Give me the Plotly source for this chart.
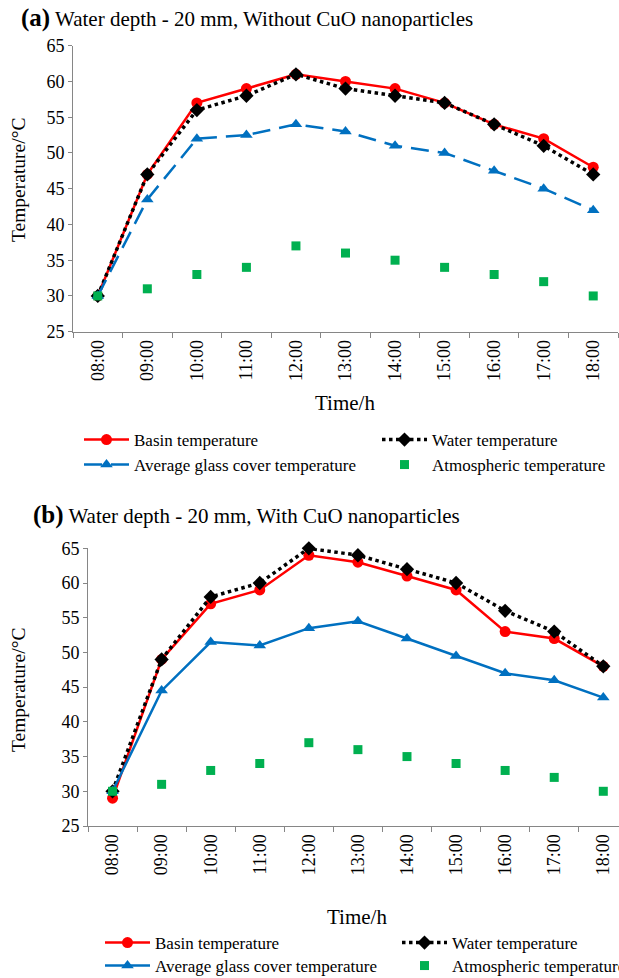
import plotly.graph_objects as go

# ---- data -------------------------------------------------------------
hours = ["08:00", "09:00", "10:00", "11:00", "12:00", "13:00",
         "14:00", "15:00", "16:00", "17:00", "18:00"]

# (a) without CuO nanoparticles
basin_a = [30, 47, 57, 59, 61, 60, 59, 57, 54, 52, 48]
water_a = [30, 47, 56, 58, 61, 59, 58, 57, 54, 51, 47]
glass_a = [30, 43.5, 52, 52.5, 54, 53, 51, 50, 47.5, 45, 42]
atmos_a = [30, 31, 33, 34, 37, 36, 35, 34, 33, 32, 30]

# (b) with CuO nanoparticles
basin_b = [29, 49, 57, 59, 64, 63, 61, 59, 53, 52, 48]
water_b = [30, 49, 58, 60, 65, 64, 62, 60, 56, 53, 48]
glass_b = [30, 44.5, 51.5, 51, 53.5, 54.5, 52, 49.5, 47, 46, 43.5]
atmos_b = [30, 31, 33, 34, 37, 36, 35, 34, 33, 32, 30]

# ---- helpers ------------------------------------------------------------
W, H = 619, 978
FONT = "Liberation Serif, Times New Roman, serif"
RED, BLACK, BLUE, GREEN, GREY = "#FF0000", "#000000", "#0070C0", "#00B050", "#868686"


def fx(px):
    return px / W


def fy(px):
    return 1 - px / H


fig = go.Figure()


def add_panel(xa, ya, basin, water, glass, atmos, glass_dash, legs):
    fig.add_trace(go.Scatter(
        x=hours, y=basin, name="Basin temperature", mode="lines+markers",
        line=dict(color=RED, width=2.5),
        marker=dict(symbol="circle", size=11, color=RED),
        xaxis=xa, yaxis=ya, legend=legs[0], cliponaxis=False))
    fig.add_trace(go.Scatter(
        x=hours, y=water, name="Water temperature", mode="lines+markers",
        line=dict(color=BLACK, width=3.5, dash="dot"),
        marker=dict(symbol="diamond", size=11, color=BLACK),
        xaxis=xa, yaxis=ya, legend=legs[1], cliponaxis=False))
    fig.add_trace(go.Scatter(
        x=hours, y=glass, name="Average glass cover temperature", mode="lines+markers",
        line=dict(color=BLUE, width=2.5, dash=glass_dash),
        marker=dict(symbol="triangle-up", size=11, color=BLUE),
        xaxis=xa, yaxis=ya, legend=legs[2], cliponaxis=False))
    fig.add_trace(go.Scatter(
        x=hours, y=atmos, name="Atmospheric temperature", mode="markers",
        marker=dict(symbol="square", size=9, color=GREEN),
        xaxis=xa, yaxis=ya, legend=legs[3], cliponaxis=False))


add_panel("x", "y", basin_a, water_a, glass_a, atmos_a, "18px,9px",
          ["legend", "legend2", "legend3", "legend4"])
add_panel("x2", "y2", basin_b, water_b, glass_b, atmos_b, "solid",
          ["legend5", "legend6", "legend7", "legend8"])

xaxis_common = dict(
    type="category", tickson="boundaries", ticks="outside", ticklen=5,
    tickcolor=GREY, showline=True, linecolor=GREY, linewidth=1,
    tickangle=-90, tickfont=dict(family=FONT, size=18, color="black"),
    showgrid=False, zeroline=False, fixedrange=True)
yaxis_common = dict(
    range=[25, 65], dtick=5, ticks="outside", ticklen=4, tickcolor=GREY,
    showline=True, linecolor=GREY, linewidth=1,
    tickfont=dict(family=FONT, size=18, color="black"),
    showgrid=False, zeroline=False, fixedrange=True)

legend_common = dict(
    orientation="h", xanchor="left", yanchor="middle", itemwidth=45,
    font=dict(family=FONT, size=17, color="black"),
    bgcolor="rgba(0,0,0,0)")

# legend entries laid out as two columns by two rows under each panel
leg_a_cols, leg_a_rows = (79, 377), (440, 465)
leg_b_cols, leg_b_rows = (100, 397), (943, 966)


def leg(col_x, row_y):
    return dict(x=fx(col_x), y=fy(row_y), **legend_common)


fig.update_layout(
    width=W, height=H,
    margin=dict(l=0, r=0, t=0, b=0, autoexpand=False),
    paper_bgcolor="white", plot_bgcolor="white",
    font=dict(family=FONT, color="black"),
    xaxis=dict(domain=[fx(73), fx(618)], anchor="y", range=[-0.5, 10.5], **xaxis_common),
    yaxis=dict(domain=[fy(331.7), fy(45.7)], anchor="x", **yaxis_common),
    xaxis2=dict(domain=[fx(88), 1], anchor="y2", range=[-0.5, 10.32], **xaxis_common),
    yaxis2=dict(domain=[fy(826), fy(548.3)], anchor="x2", **yaxis_common),
    legend=leg(leg_a_cols[0], leg_a_rows[0]),
    legend2=leg(leg_a_cols[1], leg_a_rows[0]),
    legend3=leg(leg_a_cols[0], leg_a_rows[1]),
    legend4=leg(leg_a_cols[1], leg_a_rows[1]),
    legend5=leg(leg_b_cols[0], leg_b_rows[0]),
    legend6=leg(leg_b_cols[1], leg_b_rows[0]),
    legend7=leg(leg_b_cols[0], leg_b_rows[1]),
    legend8=leg(leg_b_cols[1], leg_b_rows[1]),
    showlegend=True,
)

ann = dict(xref="paper", yref="paper", showarrow=False,
           font=dict(family=FONT, size=21, color="black"))
fig.add_annotation(
    x=fx(19), y=fy(18), xanchor="left", yanchor="middle",
    text="<b><span style='font-size:25px'>(a)</span></b> Water depth - 20 mm, Without CuO nanoparticles",
    **ann)
fig.add_annotation(
    x=fx(31), y=fy(515), xanchor="left", yanchor="middle",
    text="<b><span style='font-size:25px'>(b)</span></b> Water depth - 20 mm, With CuO nanoparticles",
    **ann)
ytitle = dict(xref="paper", yref="paper", showarrow=False, textangle=-90,
              font=dict(family=FONT, size=19.5, color="black"),
              xanchor="center", yanchor="middle", text="Temperature/°C")
fig.add_annotation(x=fx(18), y=fy(180), **ytitle)
fig.add_annotation(x=fx(18), y=fy(690), **ytitle)
fig.add_annotation(x=fx(345), y=fy(403), text="Time/h",
                   xanchor="center", yanchor="middle", **ann)
fig.add_annotation(x=fx(357), y=fy(917), text="Time/h",
                   xanchor="center", yanchor="middle", **ann)

fig.write_html("out.html")
